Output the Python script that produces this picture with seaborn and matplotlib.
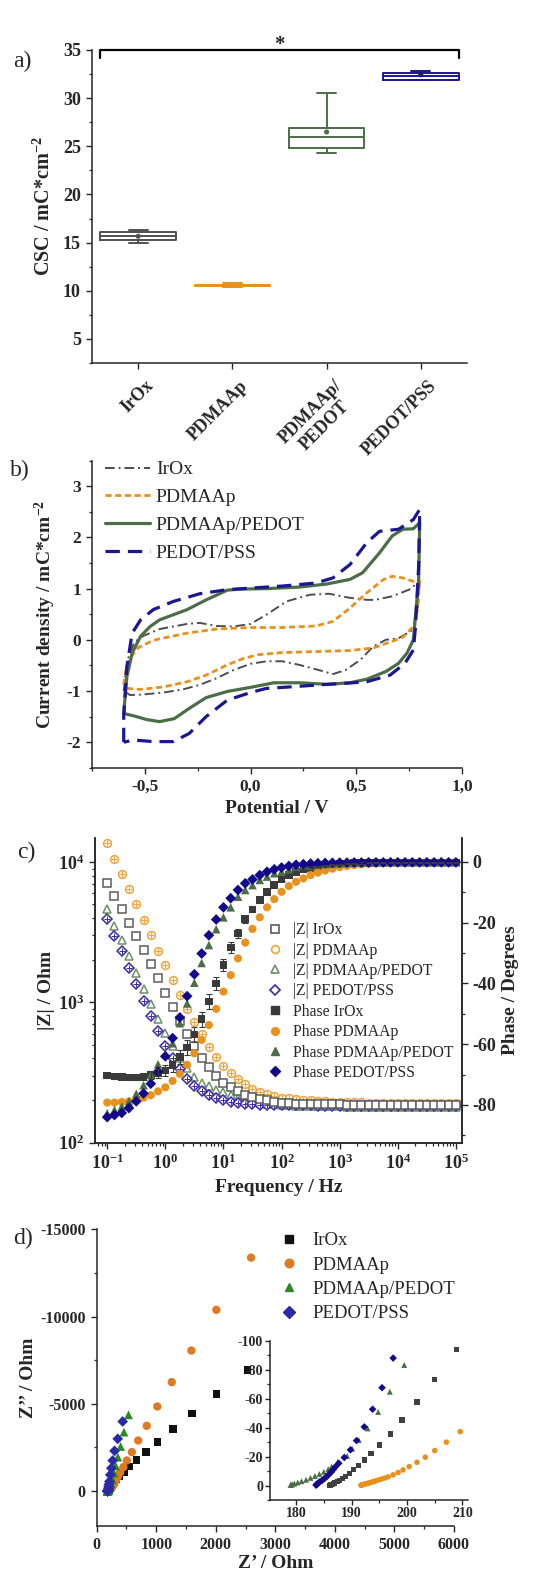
import numpy as np
import pandas as pd
import seaborn as sns
import matplotlib
matplotlib.use("Agg")
import matplotlib.pyplot as plt
import matplotlib.transforms as mtransforms
from matplotlib.lines import Line2D
from matplotlib.ticker import MultipleLocator, LogLocator, FuncFormatter, NullFormatter

# ---------------- a) charge storage capacity (box stats: min, q1, median, q3, max)
samples = ["IrOx", "PDMAAp", "PDMAAp/PEDOT", "PEDOT/PSS"]
sample_ticklabels = ["IrOx", "PDMAAp", "PDMAAp/\nPEDOT", "PEDOT/PSS"]
csc_irox = [15.0, 15.24, 15.73, 16.1, 16.35]
csc_pdmaap = [10.34, 10.47, 10.55, 10.63, 10.8]
csc_pdmaap_pedot = [24.34, 24.83, 25.94, 26.95, 30.52]
csc_pedot = [31.86, 31.9, 32.26, 32.65, 32.78]
csc_means = [15.66, 10.55, 26.49, 32.43]

# ---------------- b) cyclic voltammetry (forward then reverse sweep)
pot_irox = [-0.6, -0.59, -0.575, -0.55, -0.51, -0.43, -0.30, -0.24, -0.16, -0.08, 0.0, 0.075, 0.17, 0.28,
            0.37, 0.47, 0.55, 0.59, 0.67, 0.75, 0.8, 0.79, 0.77, 0.70, 0.64, 0.58, 0.52, 0.45, 0.39, 0.33,
            0.23, 0.15, 0.075, 0.0, -0.08, -0.16, -0.24, -0.32, -0.41, -0.51, -0.57, -0.6]
cur_irox = [-1.0, -0.6, -0.3, -0.05, 0.07, 0.21, 0.31, 0.33, 0.27, 0.26, 0.31, 0.49, 0.75, 0.88,
            0.90, 0.82, 0.78, 0.78, 0.85, 0.98, 1.14, 0.6, 0.2, 0.03, 0.0, -0.13, -0.39, -0.59, -0.67, -0.6,
            -0.49, -0.42, -0.42, -0.47, -0.59, -0.75, -0.88, -0.97, -1.03, -1.07, -1.08, -1.0]
pot_pdmaap = [-0.6, -0.59, -0.57, -0.53, -0.47, -0.44, -0.30, -0.16, 0.0, 0.15, 0.31, 0.39, 0.47, 0.55,
              0.63, 0.67, 0.72, 0.77, 0.8, 0.79, 0.77, 0.72, 0.67, 0.58, 0.47, 0.31, 0.15, 0.04, -0.03,
              -0.11, -0.21, -0.30, -0.41, -0.52, -0.585, -0.6]
cur_pdmaap = [-0.88, -0.6, -0.35, -0.15, -0.03, 0.01, 0.13, 0.21, 0.24, 0.24, 0.27, 0.36, 0.62, 0.92,
              1.18, 1.24, 1.21, 1.14, 1.14, 0.6, 0.26, 0.05, -0.03, -0.16, -0.21, -0.23, -0.25, -0.29, -0.36,
              -0.49, -0.69, -0.82, -0.92, -0.97, -0.95, -0.88]
pot_pp = [-0.6, -0.585, -0.56, -0.52, -0.475, -0.43, -0.365, -0.30, -0.21, -0.11, -0.05, 0.075, 0.23, 0.36,
          0.47, 0.53, 0.61, 0.67, 0.72, 0.77, 0.8, 0.795, 0.78, 0.77, 0.74, 0.70, 0.64, 0.55, 0.47, 0.36,
          0.23, 0.11, 0.0, -0.11, -0.21, -0.29, -0.36, -0.43, -0.49, -0.55, -0.6]
cur_pp = [-1.44, -0.72, -0.26, 0.07, 0.26, 0.39, 0.49, 0.59, 0.78, 0.97, 0.99, 1.0, 1.03, 1.09,
          1.18, 1.31, 1.70, 2.03, 2.16, 2.17, 2.29, 1.18, 0.46, 0.0, -0.26, -0.46, -0.62, -0.77, -0.84, -0.87,
          -0.84, -0.84, -0.93, -1.01, -1.13, -1.34, -1.54, -1.6, -1.56, -1.49, -1.44]
pot_pss = [-0.6, -0.6, -0.585, -0.56, -0.52, -0.46, -0.365, -0.24, -0.11, 0.0, 0.15, 0.31, 0.39, 0.47,
           0.55, 0.61, 0.70, 0.77, 0.8, 0.795, 0.78, 0.77, 0.73, 0.66, 0.55, 0.45, 0.33, 0.19, 0.075, 0.0,
           -0.11, -0.21, -0.29, -0.365, -0.46, -0.55, -0.6]
cur_pss = [-2.0, -1.5, -0.52, 0.13, 0.39, 0.59, 0.75, 0.90, 0.98, 1.01, 1.05, 1.11, 1.21, 1.47,
           1.90, 2.12, 2.16, 2.35, 2.55, 1.44, 0.26, -0.2, -0.46, -0.69, -0.82, -0.85, -0.88, -0.92, -0.95, -1.03,
           -1.18, -1.5, -1.83, -1.99, -1.99, -1.96, -2.0]

# ---------------- c) Bode data
freq = [0.1, 0.1334, 0.1778, 0.2371, 0.3162, 0.4217, 0.5623, 0.7499, 1.0, 1.334, 1.778, 2.371, 3.162,
        4.217, 5.623, 7.499, 10, 13.34, 17.78, 23.71, 31.62, 42.17, 56.23, 74.99, 100, 133.4, 177.8,
        237.1, 316.2, 421.7, 562.3, 749.9, 1000, 1334, 1778, 2371, 3162, 4217, 5623, 7499, 10000,
        13340, 17780, 23710, 31620, 42170, 56230, 74990, 100000]
z_irox = [7150, 5750, 4630, 3710, 2980, 2370, 1890, 1500, 1170, 927, 733, 599, 486, 402, 345, 297, 267,
          248, 232, 220, 212, 205, 200, 196, 193, 191, 190, 189, 188.5, 188, 187.7, 187.5, 187.3, 187.2,
          187.1, 187, 187, 187, 186.9, 186.9, 186.8, 186.8, 186.8, 186.7, 186.7, 186.7, 186.6, 186.6, 186.6]
z_irox_err = [330, 270, 210, 170, 140, 110, 90, 70, 55, 45, 36, 30, 24, 18, 14, 10, 7, 5, 4, 3, 2, 2,
              1.5, 1, 1, 1, 1, 1, 1, 1, 1, 1, 1, 1, 1, 1, 1, 1, 1, 1, 1, 1, 1, 1, 1, 1, 1, 1, 1]
z_pdmaap = [13650, 10550, 8260, 6430, 4990, 3880, 3020, 2345, 1836, 1436, 1135, 898, 721, 599, 482, 409,
            351, 312, 283, 260, 242, 231, 221, 215, 210, 207, 204, 202, 200, 198.5, 197, 196, 195, 194.5,
            194, 193.6, 193.3, 193, 192.8, 192.6, 192.5, 192.4, 192.3, 192.2, 192.1, 192, 192, 191.9, 191.9]
z_pdmaap_pedot = [4625, 3515, 2800, 2130, 1620, 1245, 979, 766, 606, 486, 402, 341, 294, 267, 252, 239,
                  228, 218, 210, 203, 197, 193, 190, 188, 186, 185, 184, 183.3, 182.7, 182.2, 181.8, 181.5,
                  181.2, 181, 180.8, 180.6, 180.5, 180.4, 180.3, 180.2, 180.1, 180, 180, 179.9, 179.9,
                  179.8, 179.8, 179.7, 179.7]
z_pedot = [3930, 2985, 2307, 1774, 1352, 1028, 794, 621, 492, 402, 336, 285, 255, 232, 218, 208, 201,
           196, 192, 190, 188, 187, 186, 185.5, 185, 184.7, 184.5, 184.3, 184.2, 184.1, 184, 184, 183.9,
           183.9, 183.8, 183.8, 183.8, 183.7, 183.7, 183.7, 183.6, 183.6, 183.6, 183.6, 183.5, 183.5,
           183.5, 183.5, 183.5]
ph_irox = [-70.3, -70.6, -70.8, -71.0, -70.9, -70.7, -70.2, -69.6, -68.7, -66.8, -64.2, -61.1, -56.8,
           -51.8, -46.0, -40.1, -34.0, -28.2, -23.6, -18.9, -15.7, -12.6, -9.9, -7.7, -5.8, -4.4, -3.4,
           -2.6, -2.0, -1.6, -1.3, -1.0, -0.8, -0.6, -0.5, -0.4, -0.35, -0.3, -0.3, -0.25, -0.25, -0.2,
           -0.2, -0.2, -0.2, -0.2, -0.2, -0.2, -0.2]
ph_irox_err = [0.8, 0.8, 0.8, 0.9, 1.0, 1.1, 1.3, 1.6, 1.9, 2.2, 2.4, 2.6, 2.6, 2.5, 2.4, 2.2, 2.0, 1.7,
               1.4, 1.2, 1.0, 0.8, 0.6, 0.5, 0.4, 0.3, 0.3, 0.2, 0.2, 0.2, 0.2, 0.2, 0.2, 0.2, 0.2, 0.2,
               0.2, 0.2, 0.2, 0.2, 0.2, 0.2, 0.2, 0.2, 0.2, 0.2, 0.2, 0.2, 0.2]
ph_pdmaap = [-79.2, -79.2, -79.0, -78.8, -78.3, -77.6, -76.8, -75.5, -74.2, -72.1, -69.8, -66.8, -63.0,
             -58.6, -53.7, -48.4, -42.7, -37.3, -31.8, -26.6, -22.1, -18.3, -15.0, -12.3, -9.9, -8.0,
             -6.6, -5.5, -4.4, -3.6, -2.9, -2.3, -1.8, -1.4, -1.1, -0.9, -0.7, -0.6, -0.5, -0.4, -0.35,
             -0.3, -0.3, -0.3, -0.25, -0.25, -0.25, -0.25, -0.25]
ph_pdmaap_pedot = [-82.7, -81.6, -80.5, -78.8, -76.3, -73.5, -70.0, -66.6, -63.2, -59.7, -53.1, -46.6,
                   -39.8, -33.3, -27.4, -22.2, -18.3, -15.0, -11.5, -9.3, -7.7, -6.0, -4.9, -3.8, -3.3,
                   -2.5, -2.0, -1.6, -1.3, -1.0, -0.8, -0.65, -0.5, -0.4, -0.35, -0.3, -0.3, -0.25, -0.25,
                   -0.2, -0.2, -0.2, -0.2, -0.2, -0.2, -0.2, -0.2, -0.2, -0.2]
ph_pedot = [-84.0, -83.3, -82.6, -81.0, -78.8, -76.2, -73.0, -69.0, -64.0, -58.0, -51.2, -44.2, -37.0,
            -30.2, -24.2, -19.0, -15.0, -12.0, -9.3, -7.1, -5.8, -4.4, -3.3, -2.5, -1.9, -1.4, -1.0,
            -0.8, -0.6, -0.5, -0.4, -0.35, -0.3, -0.3, -0.25, -0.25, -0.2, -0.2, -0.2, -0.2, -0.2, -0.2,
            -0.2, -0.2, -0.2, -0.2, -0.2, -0.2, -0.2]

# ---------------- d) Nyquist data (Z', Z'')
nyq_irox_re = [2530, 2010, 1604, 1279, 1018, 828, 671, 554, 464, 385, 330, 295, 268, 250, 238, 228, 221,
               214, 208.9, 204.9, 201.8, 199.1, 197.0, 195.1, 193.5, 192.3, 191.3, 190.4, 189.6, 188.9,
               188.3, 187.8, 187.4, 187.0, 186.7, 186.5, 186.3, 186.2, 186.1]
nyq_irox_im = [-6947, -5580, -4447, -3550, -2813, -2240, -1775, -1411, -1106, -852, -660, -524, -407,
               -316, -248, -191, -149, -117, -94.0, -73.5, -57.8, -45.4, -35.7, -28.1, -22.4, -17.7,
               -13.8, -10.9, -8.5, -6.5, -4.9, -3.6, -2.6, -1.8, -1.2, -0.8, -0.5, -0.3, -0.1]
nyq_pdmaap_re = [2592, 2010, 1590, 1260, 1018, 840, 697, 590, 506, 448, 392, 354, 327, 305, 285, 271,
                 258, 248, 240, 232.5, 224, 219, 213.5, 209.6, 207.1, 205.0, 203.3, 201.8, 200.4, 199.3,
                 198.4, 197.5, 196.6, 196.0, 195.4, 194.9, 194.4, 194.0, 193.6, 193.2, 192.9, 192.6,
                 192.3, 192.1, 191.9, 191.8, 191.7]
nyq_pdmaap_im = [-13378, -10384, -8053, -6243, -4847, -3740, -2898, -2234, -1753, -1375, -1065, -825,
                 -642, -511, -388, -306, -238, -189, -149, -116, -91, -72.5, -57, -37.3, -30.0, -24.2,
                 -19.6, -16.1, -13.1, -10.8, -9.0, -7.4, -6.0, -5.2, -4.5, -3.9, -3.3, -2.8, -2.3, -1.9,
                 -1.5, -1.2, -0.9, -0.7, -0.5, -0.3, -0.2]
nyq_pp_re = [534, 458, 402, 355, 318, 292, 265, 244, 228, 216, 208, 203, 199.5, 196.9, 194.8, 192.9,
             191.3, 190.1, 189.2, 187.5, 186.4, 185.8, 185.0, 184.2, 183.4, 182.6, 181.8, 181.0, 180.3,
             179.7, 179.3, 179.1, 179.0]
nyq_pp_im = [-4370, -3379, -2555, -1947, -1449, -1030, -647, -420, -280, -190, -135, -105, -83.4, -64.9,
             -50.9, -39.5, -31.5, -25.5, -20.5, -16.4, -13.1, -11.3, -9.5, -8.0, -6.6, -5.3, -4.0, -3.0,
             -2.1, -1.4, -0.9, -0.6, -0.4]
nyq_pss_re = [436, 353, 300, 268, 245, 228, 213, 205, 201, 199, 198, 197.5, 195.5, 193.8, 192.3, 190.9,
              189.8, 188.7, 187.7, 187.1, 186.7, 186.3, 185.9, 185.5, 185.1, 184.7, 184.3, 184.0, 183.8,
              183.7, 183.6]
nyq_pss_im = [-3987, -2994, -2305, -1752, -1313, -931, -549, -380, -260, -170, -120, -88.2, -67.7, -52.8,
              -40.6, -31.1, -24.7, -19.4, -15.4, -13.0, -11.0, -9.2, -7.6, -6.1, -4.8, -3.6, -2.6, -1.8,
              -1.1, -0.6, -0.3]

# ---------------- style
sns.set_style("ticks")
plt.rcParams.update({
    "font.family": ["Liberation Serif", "DejaVu Serif"],
    "font.weight": "bold",
    "axes.labelweight": "bold",
    "axes.unicode_minus": False,
    "mathtext.fontset": "custom",
    "mathtext.rm": "Liberation Serif:bold",
    "mathtext.bf": "Liberation Serif:bold",
    "mathtext.it": "Liberation Serif:bold:italic",
    "mathtext.default": "rm",
    "axes.linewidth": 1.1,
    "xtick.direction": "out", "ytick.direction": "out",
    "xtick.major.size": 4.5, "ytick.major.size": 4.5,
    "xtick.minor.size": 2.5, "ytick.minor.size": 2.5,
    "xtick.major.width": 1.0, "ytick.major.width": 1.0,
    "xtick.minor.width": 0.9, "ytick.minor.width": 0.9,
})

GRAY, ORANGE, GREEN, BLUE = "#4d4d4d", "#e8901c", "#4b6e47", "#1c1690"

W, H = 539, 1573
fig = plt.figure(figsize=(W / 100, H / 100), dpi=100)


def box(l, t, r, b):
    return [l / W, 1 - b / H, (r - l) / W, (b - t) / H]


def panel_label(x, y, s):
    fig.text(x / W, 1 - y / H, s, fontsize=17, fontweight="normal", ha="center", va="center")


# ================= a)
ax_a = fig.add_axes(box(92, 50, 467, 363))
csc = pd.DataFrame({
    "sample": np.repeat(samples, 5),
    "csc": csc_irox + csc_pdmaap + csc_pdmaap_pedot + csc_pedot,
})
box_colors = ["#505050", ORANGE, GREEN, BLUE]
sns.boxplot(data=csc, x="sample", y="csc", hue="sample", palette=box_colors, fill=False,
            whis=(0, 100), width=0.8, linewidth=1.4, capwidths=0.2, legend=False,
            showfliers=False, ax=ax_a)
ax_a.scatter(range(len(samples)), csc_means, c=box_colors, s=7, zorder=5)
ax_a.set_xlim(-0.49, 3.49)
ax_a.set_ylim(2.5, 35)
ax_a.yaxis.set_major_locator(MultipleLocator(5))
ax_a.yaxis.set_minor_locator(MultipleLocator(2.5))
ax_a.set_xticks(range(len(samples)))
ax_a.set_xticklabels(sample_ticklabels, rotation=45, ha="right", va="top",
                     rotation_mode="anchor", multialignment="center", fontsize=13)
shift = mtransforms.ScaledTranslation(0.07, -0.03, fig.dpi_scale_trans)
for lbl in ax_a.get_xticklabels():
    lbl.set_transform(lbl.get_transform() + shift)
ax_a.tick_params(axis="y", labelsize=13)
ax_a.set_xlabel("")
ax_a.set_ylabel("CSC / mC*cm$^{-2}$", fontsize=14.5, labelpad=6)
sns.despine(ax=ax_a)
# significance bracket over all groups
x0, x1 = 0 - 0.4, len(samples) - 1 + 0.4
ax_a.plot([x0, x0, x1, x1], [34.2, 35.05, 35.05, 34.2], color="black", lw=1.6, clip_on=False)
ax_a.text((x0 + x1) / 2, 35.5, "*", ha="center", va="center", fontsize=15)
panel_label(22, 61, "a)")

# ================= b)
ax_b = fig.add_axes(box(92, 460.7, 462, 767.7))
cv_style = [
    (pot_irox, cur_irox, "IrOx", GRAY, (0, (5, 2, 1, 2)), 1.4),
    (pot_pdmaap, cur_pdmaap, "PDMAAp", ORANGE, (0, (2.2, 1.3)), 2.0),
    (pot_pp, cur_pp, "PDMAAp/PEDOT", GREEN, "-", 2.3),
    (pot_pss, cur_pss, "PEDOT/PSS", BLUE, (0, (4.5, 2.5)), 2.3),
]
handles_b = []
for pot, cur, name, col, ls, lw in cv_style:
    sns.lineplot(x=pot, y=cur, sort=False, estimator=None, color=col, linestyle=ls, lw=lw, ax=ax_b)
    handles_b.append(Line2D([], [], color=col, linestyle=ls, lw=lw, label=name))
ax_b.set_xlim(-0.75, 1.0)
ax_b.set_ylim(-2.5, 3.5)
ax_b.xaxis.set_major_locator(MultipleLocator(0.5))
ax_b.xaxis.set_minor_locator(MultipleLocator(0.25))
ax_b.yaxis.set_major_locator(MultipleLocator(1))
ax_b.yaxis.set_minor_locator(MultipleLocator(0.5))
ax_b.xaxis.set_major_formatter(FuncFormatter(lambda v, p: ("%.1f" % (v + 0.0)).replace(".", ",").replace("-0,0", "0,0")))
ax_b.yaxis.set_major_formatter(FuncFormatter(lambda v, p: "%d" % round(v)))
ax_b.tick_params(labelsize=12.5)
ax_b.set_xlabel("Potential / V", fontsize=14)
ax_b.set_ylabel("Current density / mC*cm$^{-2}$", fontsize=14, labelpad=6)
sns.despine(ax=ax_b)
ax_b.legend(handles=handles_b, loc="upper left", bbox_to_anchor=(0.015, 1.025), frameon=False,
            prop={"weight": "normal", "size": 14}, handlelength=2.3, handletextpad=0.3,
            labelspacing=0.52, borderaxespad=0)
panel_label(20, 470, "b)")

# ================= c)
ax_c = fig.add_axes(box(95, 838.3, 461.7, 1142.7))
ax_c.set_xscale("log")
ax_c.set_yscale("log")
ZG, ZO, ZGR, ZB = "#5c5c5c", "#f0a43a", "#6e8f69", "#3a2aa8"
PG, PO, PGR, PB = "#3a3a3a", "#e8921e", "#4b6e47", "#14088a"
ms = 5.6
ax_c.errorbar(freq, z_irox, yerr=z_irox_err, fmt="s", mfc="white", mec=ZG, ecolor=ZG, ms=ms,
              mew=1.1, capsize=2.5, elinewidth=0.8, capthick=0.8)
ax_c.plot(freq, z_pdmaap, "o", mfc="white", mec=ZO, ms=ms, mew=1.1)
ax_c.plot(freq, z_pdmaap, "+", color=ZO, ms=4.5, mew=0.7)
ax_c.plot(freq, z_pdmaap_pedot, "^", mfc="white", mec=ZGR, ms=ms, mew=1.1)
ax_c.plot(freq, z_pedot, "D", mfc="white", mec=ZB, ms=ms - 0.6, mew=1.1)
ax_c.plot(freq, z_pedot, "+", color=ZB, ms=4.5, mew=0.7)
ax_c.set_xlim(10 ** -1.21, 10 ** 5.1)
ax_c.set_ylim(100, 10 ** 4.17)
log_fmt = FuncFormatter(lambda v, p: r"$\mathbf{10^{%d}}$" % int(round(np.log10(v))))
ax_c.set_xticks([0.1, 1, 10, 100, 1000, 10000, 100000])
ax_c.xaxis.set_minor_locator(LogLocator(base=10, subs=np.arange(2, 10), numticks=20))
ax_c.xaxis.set_major_formatter(log_fmt)
ax_c.xaxis.set_minor_formatter(NullFormatter())
ax_c.set_yticks([100, 1000, 10000])
ax_c.yaxis.set_minor_locator(LogLocator(base=10, subs=np.arange(2, 10), numticks=10))
ax_c.yaxis.set_major_formatter(log_fmt)
ax_c.yaxis.set_minor_formatter(NullFormatter())
ax_c.tick_params(labelsize=13)
ax_c.set_xlabel("Frequency / Hz", fontsize=14)
ax_c.set_ylabel("|Z| / Ohm", fontsize=14, labelpad=2)
ax_c.spines["top"].set_visible(False)

ax_p = ax_c.twinx()
ax_p.errorbar(freq, ph_irox, yerr=ph_irox_err, fmt="none", ecolor=PG, capsize=2.5, elinewidth=0.8,
              capthick=0.8)
sns.scatterplot(x=freq, y=ph_irox, marker="s", color=PG, s=30, edgecolor="none", ax=ax_p)
sns.scatterplot(x=freq, y=ph_pdmaap, marker="o", color=PO, s=34, edgecolor="none", ax=ax_p)
sns.scatterplot(x=freq, y=ph_pdmaap_pedot, marker="^", color=PGR, s=38, edgecolor="none", ax=ax_p)
sns.scatterplot(x=freq, y=ph_pedot, marker="D", color=PB, s=30, edgecolor="none", ax=ax_p)
ax_p.set_ylim(-92.4, 7.7)
ax_p.yaxis.set_major_locator(MultipleLocator(20))
ax_p.yaxis.set_minor_locator(MultipleLocator(10))
ax_p.yaxis.set_major_formatter(FuncFormatter(lambda v, p: "%d" % round(v)))
ax_p.tick_params(labelsize=13)
ax_p.set_xlabel("")
ax_p.set_ylabel("Phase / Degrees", fontsize=14, labelpad=4)
ax_p.spines["top"].set_visible(False)

handles_c = [
    Line2D([], [], ls="none", marker="s", mfc="white", mec=ZG, ms=ms, mew=1.2, label="|Z| IrOx"),
    Line2D([], [], ls="none", marker="o", mfc="white", mec=ZO, ms=ms, mew=1.2, label="|Z| PDMAAp"),
    Line2D([], [], ls="none", marker="^", mfc="white", mec=ZGR, ms=ms, mew=1.2, label="|Z| PDMAAp/PEDOT"),
    Line2D([], [], ls="none", marker="D", mfc="white", mec=ZB, ms=ms - 0.6, mew=1.2, label="|Z| PEDOT/PSS"),
    Line2D([], [], ls="none", marker="s", color=PG, ms=ms, label="Phase IrOx"),
    Line2D([], [], ls="none", marker="o", color=PO, ms=ms, label="Phase PDMAAp"),
    Line2D([], [], ls="none", marker="^", color=PGR, ms=ms, label="Phase PDMAAp/PEDOT"),
    Line2D([], [], ls="none", marker="D", color=PB, ms=ms - 0.6, label="Phase PEDOT/PSS"),
]
ax_p.legend(handles=handles_c, loc="upper left", bbox_to_anchor=(0.452, 0.745), frameon=False,
            prop={"weight": "normal", "size": 11.3}, handlelength=1.0, handletextpad=0.65,
            labelspacing=0.28, borderaxespad=0)
panel_label(26, 852, "c)")

# ================= d)
ax_d = fig.add_axes(box(96.7, 1229.3, 454, 1526))
nyq_main = [
    (nyq_irox_re, nyq_irox_im, "IrOx", "s", "#111111", 30),
    (nyq_pdmaap_re, nyq_pdmaap_im, "PDMAAp", "o", "#e07a22", 36),
    (nyq_pp_re, nyq_pp_im, "PDMAAp/PEDOT", "^", "#2d8a22", 40),
    (nyq_pss_re, nyq_pss_im, "PEDOT/PSS", "D", "#2a2aa6", 30),
]
handles_d = []
for re_, im_, name, mk, col, s in nyq_main:
    sns.scatterplot(x=re_, y=im_, marker=mk, color=col, s=s, edgecolor="none", ax=ax_d)
    handles_d.append(Line2D([], [], ls="none", marker=mk, color=col, ms=6.2, label=name))
ax_d.set_xlim(0, 6000)
ax_d.set_ylim(2000, -15000)
ax_d.xaxis.set_major_locator(MultipleLocator(1000))
ax_d.xaxis.set_minor_locator(MultipleLocator(500))
ax_d.yaxis.set_major_locator(MultipleLocator(5000))
ax_d.yaxis.set_minor_locator(MultipleLocator(2500))
ax_d.xaxis.set_major_formatter(FuncFormatter(lambda v, p: "%d" % round(v)))
ax_d.yaxis.set_major_formatter(FuncFormatter(lambda v, p: "%d" % round(v)))
ax_d.tick_params(labelsize=11.5)
ax_d.set_xlabel("Z’ / Ohm", fontsize=14, labelpad=1)
ax_d.set_ylabel("Z’’ / Ohm", fontsize=14, labelpad=2)
sns.despine(ax=ax_d)
ax_d.legend(handles=handles_d, loc="upper left", bbox_to_anchor=(0.49, 1.015), frameon=False,
            prop={"weight": "normal", "size": 13.5}, handlelength=1.0, handletextpad=0.75,
            labelspacing=0.38, borderaxespad=0)
panel_label(23, 1238, "d)")

ax_in = fig.add_axes(box(270, 1341, 468, 1500))
ax_in.set_facecolor("none")
nyq_inset = [
    (nyq_irox_re, nyq_irox_im, "s", "#404040", 14),
    (nyq_pdmaap_re, nyq_pdmaap_im, "o", "#e8901c", 16),
    (nyq_pp_re, nyq_pp_im, "^", "#4b6e47", 18),
    (nyq_pss_re, nyq_pss_im, "D", "#14088a", 15),
]
for re_, im_, mk, col, s in nyq_inset:
    sns.scatterplot(x=re_, y=im_, marker=mk, color=col, s=s, edgecolor="none", ax=ax_in)
ax_in.set_xlim(175.3, 211)
ax_in.set_ylim(10, -100)
ax_in.xaxis.set_major_locator(MultipleLocator(10))
ax_in.xaxis.set_minor_locator(MultipleLocator(5))
ax_in.yaxis.set_major_locator(MultipleLocator(20))
ax_in.yaxis.set_minor_locator(MultipleLocator(10))
ax_in.xaxis.set_major_formatter(FuncFormatter(lambda v, p: "%d" % round(v)))
ax_in.yaxis.set_major_formatter(FuncFormatter(lambda v, p: "%d" % round(v)))
ax_in.tick_params(labelsize=10, length=3.5, pad=1.5)
ax_in.tick_params(which="minor", length=2)
ax_in.set_xlabel("")
ax_in.set_ylabel("")
sns.despine(ax=ax_in)

fig.savefig("out.png", dpi=100)
